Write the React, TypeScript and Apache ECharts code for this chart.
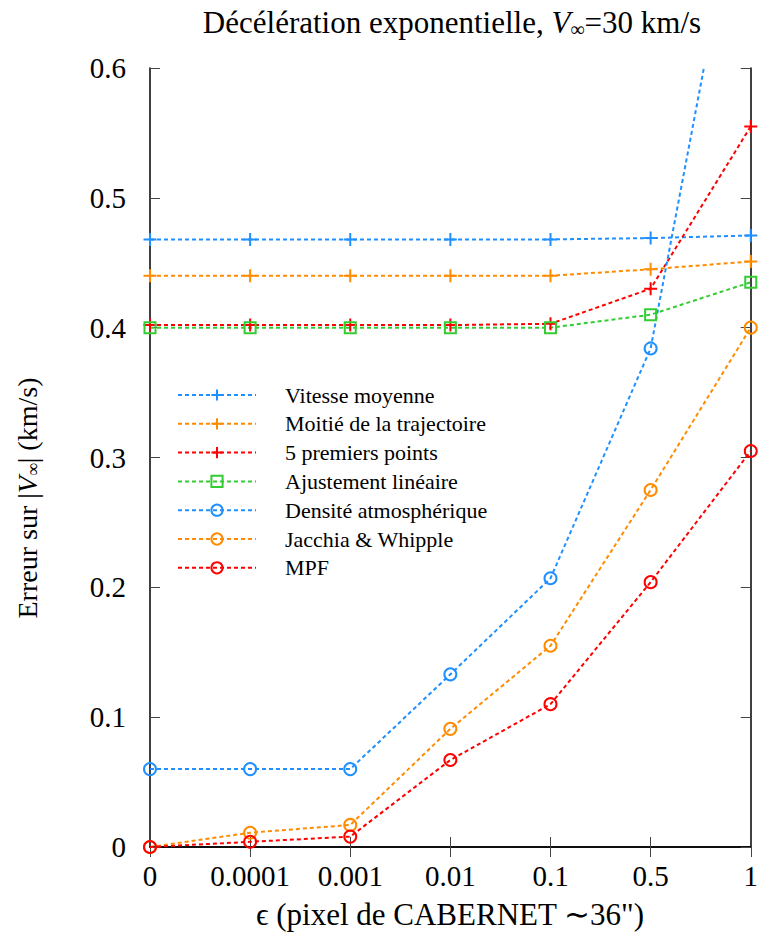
import React, { useEffect, useRef } from "react";
import * as echarts from "echarts";

const categories = ["0", "0.0001", "0.001", "0.01", "0.1", "0.5", "1"];
const yTicks = { min: 0, max: 0.6, interval: 0.1 };

const vitesseMoyenne = [0.468, 0.468, 0.468, 0.468, 0.468, 0.469, 0.471];
const moitieTrajectoire = [0.44, 0.44, 0.44, 0.44, 0.44, 0.445, 0.451];
const cinqPremiers = [0.402, 0.402, 0.402, 0.402, 0.403, 0.43, 0.555];
const ajustementLineaire = [0.4, 0.4, 0.4, 0.4, 0.4, 0.41, 0.435];
const densiteAtmo = [0.06, 0.06, 0.06, 0.133, 0.207, 0.384, 0.79];
const jacchiaWhipple = [0.0, 0.011, 0.017, 0.091, 0.155, 0.275, 0.4];
const mpf = [0.0, 0.004, 0.008, 0.067, 0.11, 0.204, 0.305];

const BLUE = "#1e90ff";
const ORANGE = "#ff8c00";
const RED = "#ff0000";
const GREEN = "#33cc33";
const FONT = "Liberation Serif";
const PLUS = "path://M6,0L6,12M0,6L12,6";

function mk(name: string, data: number[], color: string, symbol: string, size: number, clip = false) {
  return {
    name,
    type: "line",
    data,
    clip,
    symbol,
    symbolSize: size,
    showAllSymbol: true,
    lineStyle: { color, width: 2, type: [4, 3] },
    itemStyle: { color: symbol === PLUS ? color : "transparent", borderColor: color, borderWidth: 2 },
    emphasis: { disabled: true },
    z: 3,
  };
}

export default function App() {
  const ref = useRef<HTMLDivElement>(null);
  useEffect(() => {
    const chart = echarts.init(ref.current!, undefined, { renderer: "svg" });
    const axisCommon = {
      type: "category",
      data: categories,
      boundaryGap: false,
      axisLine: { show: true, lineStyle: { color: "#000", width: 1.5 } },
      axisTick: { show: true, inside: true, interval: 0, length: 10, lineStyle: { color: "#444", width: 1 } },
      splitLine: { show: false },
    };
    const yCommon = {
      type: "value",
      min: yTicks.min,
      max: yTicks.max,
      interval: yTicks.interval,
      axisLine: { show: true, lineStyle: { color: "#000", width: 1.5 } },
      axisTick: { show: true, inside: true, length: 10, lineStyle: { color: "#444", width: 1 } },
      splitLine: { show: false },
    };
    chart.setOption({
      animation: false,
      backgroundColor: "#fff",
      textStyle: { fontFamily: FONT },
      grid: { left: 150, right: 6, top: 68, bottom: 85, containLabel: false },
      xAxis: [
        {
          ...axisCommon,
          position: "bottom",
          axisLabel: { show: true, interval: 0, margin: 14, fontSize: 29, color: "#000", fontFamily: FONT },
        },
        { ...axisCommon, position: "top", axisLabel: { show: false } },
      ],
      yAxis: [
        {
          ...yCommon,
          position: "left",
          axisLabel: {
            show: true,
            margin: 24,
            fontSize: 29,
            color: "#000",
            fontFamily: FONT,
            formatter: (v: number) => (v === 0 ? "0" : v.toFixed(1)),
          },
        },
        { ...yCommon, position: "right", axisLabel: { show: false } },
      ],
      legend: {
        orient: "vertical",
        left: 177,
        top: 384,
        padding: 0,
        itemWidth: 78,
        itemHeight: 14,
        itemGap: 6.8,
        selectedMode: false,
        textStyle: { fontSize: 22, color: "#000", fontFamily: FONT, padding: [0, 0, 0, 24] },
        data: [
          "Vitesse moyenne",
          "Moitié de la trajectoire",
          "5 premiers points",
          "Ajustement linéaire",
          "Densité atmosphérique",
          "Jacchia & Whipple",
          "MPF",
        ],
      },
      series: [
        mk("Vitesse moyenne", vitesseMoyenne, BLUE, PLUS, 13),
        mk("Moitié de la trajectoire", moitieTrajectoire, ORANGE, PLUS, 13),
        mk("5 premiers points", cinqPremiers, RED, PLUS, 13),
        mk("Ajustement linéaire", ajustementLineaire, GREEN, "rect", 11),
        mk("Densité atmosphérique", densiteAtmo, BLUE, "circle", 12, true),
        mk("Jacchia & Whipple", jacchiaWhipple, ORANGE, "circle", 12),
        mk("MPF", mpf, RED, "circle", 12),
      ],
      graphic: [
        {
          type: "text",
          x: 452,
          y: 22,
          style: {
            text: "Décélération exponentielle, {i|V}{sub|∞}=30 km/s",
            fontSize: 31,
            fontFamily: FONT,
            fill: "#000",
            align: "center",
            verticalAlign: "middle",
            rich: {
              i: { fontStyle: "italic", fontSize: 31, fontFamily: FONT },
              sub: { fontSize: 20, fontFamily: FONT, padding: [13, 0, 0, 0] },
            },
          },
        },
        {
          type: "text",
          x: 27,
          y: 498,
          rotation: Math.PI / 2,
          style: {
            text: "Erreur sur |{i|V}{sub|∞}| (km/s)",
            fontSize: 28,
            fontFamily: FONT,
            fill: "#000",
            align: "center",
            verticalAlign: "middle",
            rich: {
              i: { fontStyle: "italic", fontSize: 28, fontFamily: FONT },
              sub: { fontSize: 18, fontFamily: FONT, padding: [12, 0, 0, 0] },
            },
          },
        },
        {
          type: "text",
          x: 450,
          y: 914,
          style: {
            text: "ϵ (pixel de CABERNET ∼36\")",
            fontSize: 31,
            fontFamily: FONT,
            fill: "#000",
            align: "center",
            verticalAlign: "middle",
          },
        },
      ],
    });
    return () => chart.dispose();
  }, []);
  return <div ref={ref} style={{ position: "absolute", left: 0, top: 0, width: 761, height: 932 }} />;
}
